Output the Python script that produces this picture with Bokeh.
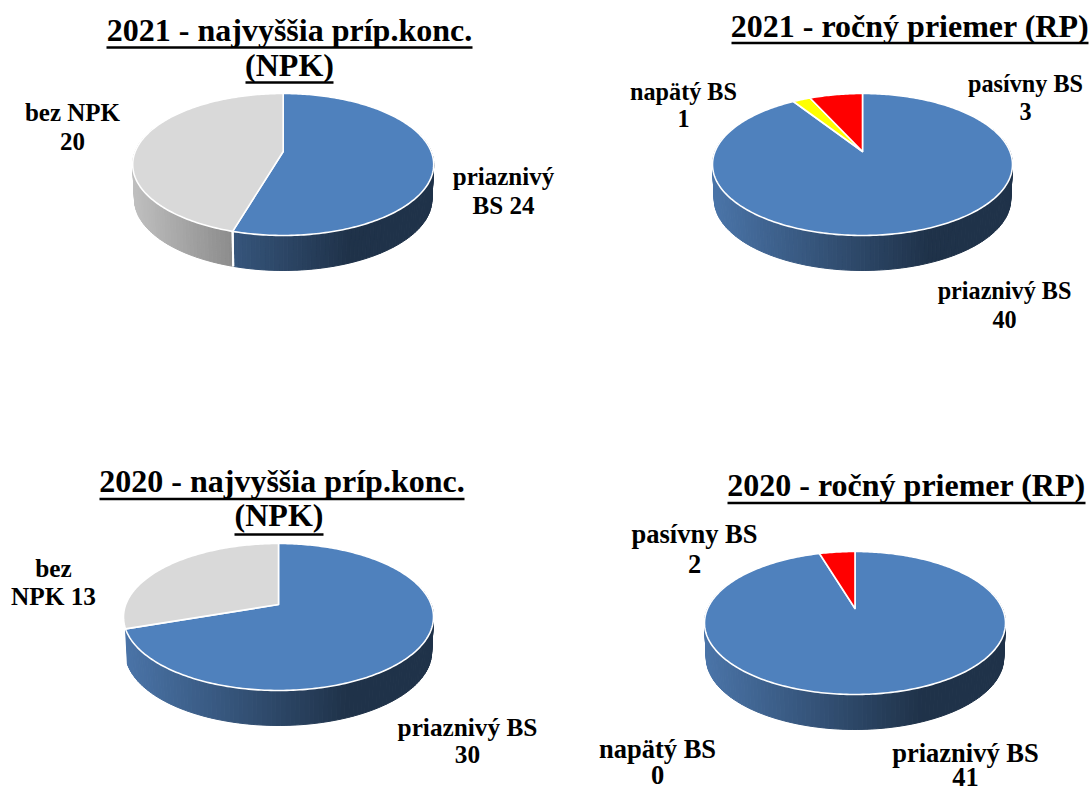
import numpy as np
from bokeh.core.properties import value
from bokeh.embed import file_html
from bokeh.models import Range1d
from bokeh.plotting import figure
from bokeh.resources import INLINE

# ---- data ----
npk_2021 = [24, 20]
rp_2021 = [40, 1, 3]
npk_2020 = [30, 13]
rp_2020 = [41, 0, 2]

npk_categories = ["priaznivy", "bez"]
rp_categories = ["priaznivy", "napaty", "pasivny"]

title_npk_2021 = ["2021 - najvyššia príp.konc.", "(NPK)"]
title_rp_2021 = ["2021 - ročný priemer (RP)"]
title_npk_2020 = ["2020 - najvyššia príp.konc.", "(NPK)"]
title_rp_2020 = ["2020 - ročný priemer (RP)"]

labels_npk_2021 = [["priaznivý", "BS 24"], ["bez NPK", "20"]]
labels_rp_2021 = [["priaznivý BS", "40"], ["napätý BS", "1"], ["pasívny BS", "3"]]
labels_npk_2020 = [["priaznivý BS", "30"], ["bez", "NPK 13"]]
labels_rp_2020 = [["priaznivý BS", "41"], ["napätý BS", "0"], ["pasívny BS", "2"]]

# ---- styling / layout (page pixels) ----
TOP = {"priaznivy": "#4f81bd", "bez": "#d9d9d9", "napaty": "#ffff00", "pasivny": "#ff0000"}
FONT = value("Liberation Serif")
TITLE_SHIFT = 11.5
LABEL_SHIFT = 9

charts = [
    dict(vals=npk_2021, cats=npk_categories, cx=282.7, apex=151, top=93, bot=235, left=132, right=433, depth=35, fs=25,
         title=title_npk_2021, tb=[41, 76], uw=[(106, 472, 47), (245, 333, 82)],
         labels=labels_npk_2021, lpos=[[(503, 185), (503, 214)], [(72, 121), (72, 150)]]),
    dict(vals=rp_2021, cats=rp_categories, cx=862, apex=151, top=93, bot=235, left=712, right=1012, depth=35, fs=24.2,
         title=title_rp_2021, tb=[37], uw=[(731, 1088, 42.5)],
         labels=labels_rp_2021, lpos=[[(1004, 299), (1004, 328)], [(683, 100), (683, 127)], [(1025, 92), (1025, 120)]]),
    dict(vals=npk_2020, cats=npk_categories, cx=278, apex=604, top=543, bot=690, left=123, right=433, depth=35, fs=25.3,
         title=title_npk_2020, tb=[492, 526], uw=[(99, 464, 498.5), (234, 323, 534)],
         labels=labels_npk_2020, lpos=[[(467, 735), (467, 763)], [(53, 576), (53, 604)]]),
    dict(vals=rp_2020, cats=rp_categories, cx=854.5, apex=608, top=551, bot=694, left=704, right=1005, depth=35, fs=26.5,
         title=title_rp_2020, tb=[496], uw=[(727, 1085, 502.5)],
         labels=labels_rp_2020, lpos=[[(965, 761), (965, 785)], [(657, 757), (657, 783)], [(694, 542), (694, 572)]]),
]

p = figure(width=1089, height=792, x_range=Range1d(0, 1089), y_range=Range1d(792, 0),
           output_backend="svg", toolbar_location=None, min_border=0)
p.axis.visible = False
p.grid.visible = False
p.outline_line_color = None
p.background_fill_color = "white"
p.border_fill_color = "white"


def mix(a, b, t):
    t = min(max(t, 0.0), 1.0)
    ca = [int(a[i:i + 2], 16) for i in (1, 3, 5)]
    cb = [int(b[i:i + 2], 16) for i in (1, 3, 5)]
    return "#%02x%02x%02x" % tuple(int(round(x + (y - x) * t)) for x, y in zip(ca, cb))


def projector(ch):
    up = ch["apex"] - ch["top"]
    down = ch["bot"] - ch["apex"]
    c = -(down - up) / (down + up)
    a = down * (1 + c)
    R = (ch["right"] - ch["left"]) / 2 * np.sqrt(1 - c * c)

    def proj(theta):
        X, v = np.sin(theta), -np.cos(theta)
        den = 1 + c * v
        return ch["cx"] + X * R / den, ch["apex"] + a * v / den
    return proj


for ch in charts:
    proj = projector(ch)
    total = sum(ch["vals"])
    edges = np.concatenate([[0], np.cumsum(ch["vals"])]) / total * 2 * np.pi
    width = ch["right"] - ch["left"]

    def lower(x, y):
        return ch["cx"] + (x - ch["cx"]) * 0.988, y + ch["depth"]

    # side wall, front part
    sx, sy, sc = [], [], []
    walls = []
    for val, cat, a0, a1 in zip(ch["vals"], ch["cats"], edges[:-1], edges[1:]):
        if val == 0 or a0 > np.radians(245):
            continue
        lo, hi = max(a0, np.radians(70)), min(a1, np.radians(290))
        if hi > lo:
            th = np.linspace(lo, hi, int((hi - lo) / np.radians(1.5)) + 2)
            x, y = proj(th)
            xb, yb = lower(x, y)
            for i in range(len(th) - 1):
                sx.append([x[i], x[i + 1], xb[i + 1], xb[i]])
                sy.append([y[i], y[i + 1], yb[i + 1], yb[i]])
                t = ((x[i] + x[i + 1]) / 2 - ch["left"]) / width
                if cat == "bez":
                    sc.append(mix("#bfbfbf", "#8c8c8c", t / 0.33))
                else:
                    sc.append(mix("#4a74a8", "#1f3249", t / 0.72))
        for a in (a0, a1):
            if np.radians(100) < a < np.radians(240):
                walls.append(a)
    p.patches(sx, sy, fill_color=sc, line_color=sc, line_width=1)

    # white seams between wall parts
    for a in walls:
        x, y = proj(np.array([a]))
        xb, yb = lower(x, y)
        p.line([x[0], xb[0]], [y[0], yb[0]], line_color="white", line_width=2)

    # top face
    for val, cat, a0, a1 in zip(ch["vals"], ch["cats"], edges[:-1], edges[1:]):
        if val == 0:
            continue
        th = np.linspace(a0, a1, max(int((a1 - a0) / np.radians(1)) + 2, 3))
        x, y = proj(th)
        xs = np.concatenate([[ch["cx"]], x])
        ys = np.concatenate([[ch["apex"]], y])
        p.patch(xs, ys, fill_color=TOP[cat], line_color="white", line_width=1.6, line_join="round")

    # title, centred over its underline
    xt = [(u[0] + u[1]) / 2 for u in ch["uw"]]
    p.text(xt, [b - TITLE_SHIFT for b in ch["tb"]], text=ch["title"], text_font=FONT, text_font_style="bold",
           text_font_size="32px", text_color="black", text_align="center", text_baseline="alphabetic")
    for x0, x1, yu in ch["uw"]:
        p.line([x0, x1], [yu, yu], line_color="black", line_width=2.6)

    # data labels
    for lines, pos in zip(ch["labels"], ch["lpos"]):
        p.text([q[0] for q in pos], [q[1] - LABEL_SHIFT for q in pos], text=lines, text_font=FONT,
               text_font_style="bold", text_font_size=f'{ch["fs"]}px', text_color="black",
               text_align="center", text_baseline="alphabetic")

open("out.html", "w").write(file_html(p, INLINE))
